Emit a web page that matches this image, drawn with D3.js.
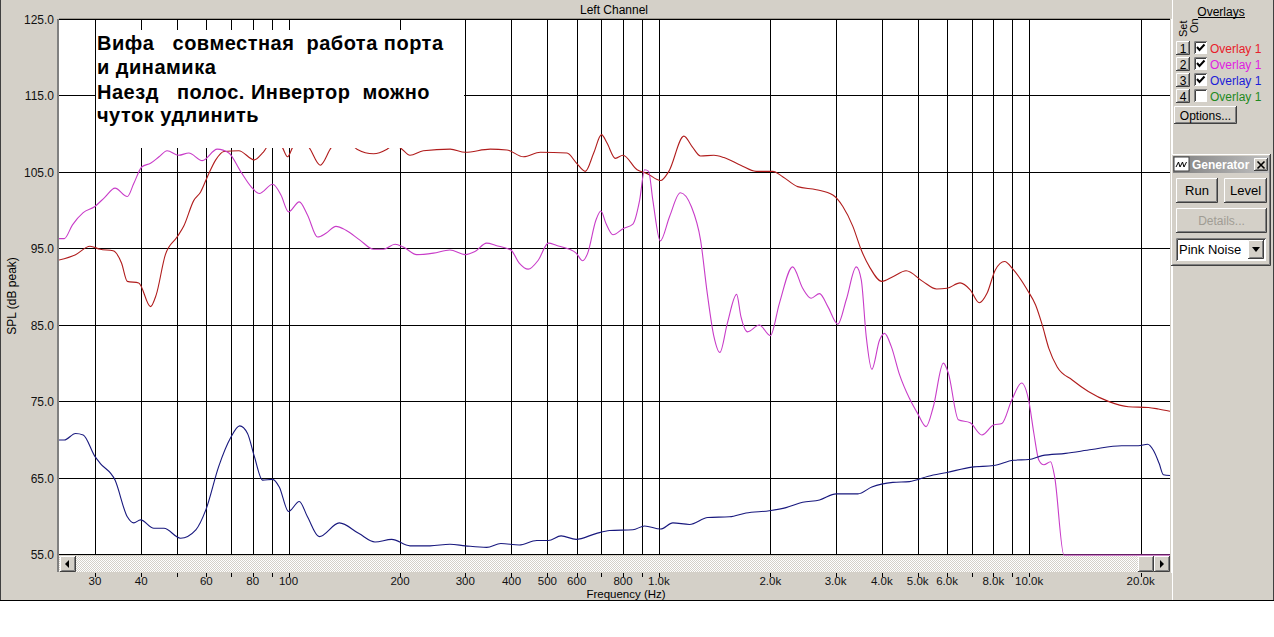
<!DOCTYPE html>
<html>
<head>
<meta charset="utf-8">
<script src="https://cdn.jsdelivr.net/npm/d3@7"></script>
<style>
  body { margin: 0; background: #fff; }
  svg { display: block; font-family: "Liberation Sans", Arial, sans-serif; }
</style>
</head>
<body>
<div id="chart"></div>
<script>
// ---- data ----
const gridFreqs = [30, 40, 50, 60, 70, 80, 90, 100, 200, 300, 400, 500, 600, 700, 800, 900,
                   1000, 2000, 3000, 4000, 5000, 6000, 7000, 8000, 9000, 10000, 20000];
const tickFreqs = [30, 40, 60, 80, 100, 200, 300, 400, 500, 600, 800,
                   1000, 2000, 3000, 4000, 5000, 6000, 8000, 10000, 20000];
const tickLabels = ["30", "40", "60", "80", "100", "200", "300", "400", "500", "600", "800",
                    "1.0k", "2.0k", "3.0k", "4.0k", "5.0k", "6.0k", "8.0k", "10.0k", "20.0k"];
const dbTicks = [125, 115, 105, 95, 85, 75, 65, 55];

// overlay 1 (red)
const redFreq = [24, 26.6, 29.1, 31.0, 33.6, 35.4, 36.7, 39.4, 42.4, 43.9, 46.5, 50, 52.1, 55.5, 57.9,
  60.4, 63.6, 66.9, 73.4, 80.8, 85.1, 91.5, 96.3, 99.4, 102.5, 107.5, 113.7, 121.8, 130.4, 140.5,
  153, 169.7, 184.5, 191.5, 200, 212.8, 231.2, 273.3, 300, 350.5, 388.7, 431, 478.7, 564.9, 600,
  633, 666.9, 700, 724.4, 763, 800, 873.5, 929.6, 1011, 1064, 1168, 1231, 1296, 1408, 1499, 1663,
  1830, 2029, 2159, 2370, 2662, 2950, 3139, 3341, 3520, 3705, 4000, 4283, 4652, 5158, 5624, 6000,
  6506, 6930, 7330, 7687, 8100, 8579, 9073, 9877, 10406, 10843, 11304, 11903, 13068, 14444, 16358,
  18527, 20982, 22328, 24000];
const redDb = [93.6, 94.3, 95.4, 95.0, 94.8, 93.2, 90.8, 90.6, 87.5, 89.0, 94.3, 96.6, 98.0, 101.4, 102.5,
  104.5, 106.7, 107.8, 107.9, 106.7, 107.6, 109.5, 108.3, 107.1, 108.3, 109.5, 108.3, 106.0, 108.3, 109.5,
  108.1, 107.5, 108.1, 108.6, 108.3, 107.3, 107.9, 108.1, 107.7, 108.1, 108.0, 107.1, 107.7, 107.6, 106.25,
  105.2, 107.6, 110.0, 108.9, 106.9, 107.3, 105.4, 104.9, 104.0, 105.2, 109.8, 108.4, 107.2, 107.3, 107.0, 106.0,
  105.2, 105.2, 104.5, 103.2, 102.8, 102.1, 100.6, 98.0, 94.9, 92.7, 90.8, 91.4, 92.2, 90.8, 89.8, 89.9,
  90.6, 89.7, 88.0, 89.2, 92.3, 93.4, 92.3, 89.7, 87.7, 85.1, 82.0, 79.6, 77.9, 76.4, 75.1,
  74.4, 74.3, 74.1, 73.8];

// overlay 2 (magenta)
const magFreq = [24, 24.8, 26.1, 27.9, 30, 31.9, 34.0, 36.7, 38.2, 40.2, 42.4, 44.7, 47.0, 50.5, 53.8,
  58.5, 64.2, 69.0, 74.2, 79.2, 83.4, 90.6, 95.4, 100, 106.9, 112.5, 119.8, 126.2, 134.3, 142.9,
  155.9, 169.7, 180.4, 193.9, 204.1, 221.9, 246.1, 272.8, 300, 318.7, 342.7, 363, 398.5, 419.7, 443.8,
  472.8, 503.1, 530.1, 573.4, 597.8, 622.8, 642.5, 676, 697.4, 719.4, 751.7, 800, 851, 887.2, 915.3,
  938.3, 963.4, 1008.8, 1069, 1142.5, 1223.5, 1296, 1351.5, 1408, 1461.7, 1530.5, 1621.7, 1665.7, 1735.6, 1867.5,
  2000, 2115, 2297.8, 2445.3, 2576.6, 2715.6, 2859.7, 3043, 3206.6, 3412, 3520, 3629.8, 3758.8, 3943, 4067.8,
  4241, 4465.6, 4748, 5000, 5268.5, 5509.9, 5863.5, 6048.8, 6437, 6930, 7452.4, 8015, 8436, 8977.5, 9538,
  9981, 10296, 10622, 10957, 11424, 11712, 12410, 24000];
const magDb = [96.4, 96.4, 98.2, 99.8, 100.6, 101.8, 103.0, 101.9, 103.6, 105.8, 106.25, 107.1, 107.9, 107.3, 107.6,
  106.6, 108.1, 107.6, 105.2, 103.2, 102.3, 103.5, 102.1, 99.9, 101.2, 99.5, 96.6, 97.1, 98.0, 97.5,
  96.2, 95.0, 95.0, 95.65, 95.3, 94.3, 94.5, 94.9, 94.3, 94.7, 95.8, 95.5, 94.9, 93.2, 92.4,
  93.6, 95.8, 95.5, 95.0, 94.5, 93.5, 94.5, 98.8, 100.0, 98.4, 96.9, 97.7, 98.3, 101.4, 105.4,
  105.2, 101.4, 96.1, 99.3, 102.4, 100.6, 96.2, 89.2, 83.6, 81.5, 85.3, 89.1, 86.2, 84.2, 85.1,
  83.7, 87.9, 92.7, 89.9, 88.6, 89.2, 87.5, 85.2, 88.4, 92.7, 91.0, 83.6, 79.3, 83.1, 84.0,
  82.3, 78.6, 75.5, 73.5, 71.8, 74.4, 80.1, 78.8, 72.7, 72.3, 70.7, 72.0, 72.2, 75.3, 77.5,
  75.1, 70.9, 67.4, 66.8, 67.2, 65.25, 55.0, 55.0];

// overlay 3 (blue)
const blueFreq = [24, 24.8, 26.6, 27.9, 30, 31.0, 34.0, 36.7, 38.2, 39.85, 43.3, 46.1, 51.1, 56.2, 59.8,
  64.8, 69.7, 73.8, 77.5, 80.85, 85.1, 90.6, 94.4, 100, 106.9, 112.5, 121.0, 137.1, 155, 171.2,
  189.9, 212.8, 241, 272.8, 300, 342.7, 374.5, 419.7, 468, 503.1, 544.5, 597.8, 676, 736.4, 851,
  915.3, 1010.6, 1091, 1209.7, 1355.7, 1551.6, 1719.3, 1987.6, 2205.3, 2445.3, 2715.6, 3013, 3446.7, 3758.8, 4283,
  4748, 5341, 6000, 7000, 8015, 9073, 9981, 10843, 12538, 14743, 17770, 19716, 20889, 21644, 22426,
  23036, 24000];
const blueDb = [70.05, 70.05, 70.9, 70.7, 67.9, 67.0, 64.8, 60.0, 59.2, 59.6, 58.5, 58.5, 57.2, 58.3, 60.9,
  66.6, 70.3, 71.9, 70.9, 67.9, 64.8, 64.9, 63.9, 60.7, 62.0, 60.0, 57.4, 59.2, 57.8, 56.7,
  57.05, 56.2, 56.2, 56.4, 56.2, 56.0, 56.5, 56.3, 56.9, 56.9, 57.5, 57.05, 57.8, 58.2, 58.3,
  58.8, 58.4, 59.2, 59.0, 59.9, 60.0, 60.5, 60.8, 61.2, 61.9, 62.2, 63.0, 63.0, 63.9, 64.5,
  64.6, 65.3, 65.8, 66.5, 66.7, 67.4, 67.5, 68.0, 68.3, 68.8, 69.3, 69.3, 69.5, 68.7, 67.0,
  65.5, 65.4];

const noteLines = ["Вифа   совместная  работа порта", "и динамика",
                   "Наезд   полос. Инвертор  можно", "чуток удлинить"];

const overlayNames = ["Overlay 1", "Overlay 1", "Overlay 1", "Overlay 1"];
const overlayColors = ["#e8202a", "#e020e0", "#1c1cd8", "#1f8a1f"];
const overlayOn = [true, true, true, false];

// ---- layout ----
const W = 1274, H = 637;
const pL = 59, pR = 1170, pT = 20, pB = 555;
const face = "#d4d0c8";

const svg = d3.select("#chart").append("svg").attr("width", W).attr("height", H);
const defs = svg.append("defs");

const x = d3.scaleLog().domain([24, 24000]).range([pL, pR]);
const y = d3.scaleLinear().domain([55, 125]).range([pB, pT]);
const px = v => Math.round(v) + 0.5;

// window background
svg.append("rect").attr("width", W).attr("height", 600).attr("fill", face);
svg.append("line").attr("x1", 0).attr("x2", W).attr("y1", 600.5).attr("y2", 600.5).attr("stroke", "#000");
svg.append("line").attr("x1", 0.5).attr("x2", 0.5).attr("y1", 0).attr("y2", 600).attr("stroke", "#404040");
svg.append("line").attr("x1", 1273.5).attr("x2", 1273.5).attr("y1", 0).attr("y2", 600).attr("stroke", "#404040");

// title strip
svg.append("line").attr("x1", pL).attr("x2", pR).attr("y1", 18.5).attr("y2", 18.5).attr("stroke", "#a09c94");
svg.append("text").attr("x", 614).attr("y", 13.5).attr("text-anchor", "middle")
  .attr("font-size", 12).text("Left Channel");

// plot area
svg.append("rect").attr("x", 57).attr("y", 19).attr("width", 2).attr("height", 553).attr("fill", "#808080");
svg.append("rect").attr("x", pL).attr("y", pT).attr("width", pR - pL).attr("height", pB - pT)
  .attr("fill", "#fff");
svg.append("line").attr("x1", pR + 1.5).attr("x2", pR + 1.5).attr("y1", 19).attr("y2", 573)
  .attr("stroke", "#fff");

const grid = svg.append("g").attr("stroke", "#000").attr("shape-rendering", "crispEdges");
grid.selectAll("line.v").data(gridFreqs).join("line").attr("class", "v")
  .attr("x1", d => px(x(d))).attr("x2", d => px(x(d)))
  .attr("y1", pT).attr("y2", pB);
grid.selectAll("line.h").data(dbTicks).join("line").attr("class", "h")
  .attr("x1", pL).attr("x2", pR)
  .attr("y1", d => px(y(d)) - 1).attr("y2", d => px(y(d)) - 1);

// curves
defs.append("clipPath").attr("id", "plotClip").append("rect")
  .attr("x", pL).attr("y", pT).attr("width", pR - pL).attr("height", pB - pT + 1);

const line = d3.line().x(d => x(d[0])).y(d => y(d[1])).curve(d3.curveMonotoneX);
const series = [
  { f: redFreq, v: redDb, color: "#b01c1c" },
  { f: magFreq, v: magDb, color: "#c83cc8" },
  { f: blueFreq, v: blueDb, color: "#18187e" }
];
const curves = svg.append("g").attr("clip-path", "url(#plotClip)");
series.forEach(s => {
  curves.append("path")
    .datum(s.f.map((f, i) => [f, s.v[i]]))
    .attr("d", line)
    .attr("fill", "none")
    .attr("stroke", s.color)
    .attr("stroke-width", 1.1);
});

// note pasted over the graph
svg.append("rect").attr("x", 96).attr("y", 30).attr("width", 368).attr("height", 118).attr("fill", "#fff");
svg.append("g").selectAll("text").data(noteLines).join("text")
  .attr("x", 97)
  .attr("y", (d, i) => [50, 74, 99, 122][i])
  .attr("xml:space", "preserve")
  .style("white-space", "pre")
  .attr("font-size", 20)
  .attr("letter-spacing", 0.5)
  .attr("font-weight", "bold")
  .text(d => d);

// y axis labels
svg.append("g").selectAll("text").data(dbTicks).join("text")
  .attr("x", 54).attr("y", d => y(d) + 4)
  .attr("text-anchor", "end").attr("font-size", 12).attr("fill", "#111")
  .text(d => d.toFixed(1));
svg.append("text").attr("transform", "translate(16,296) rotate(-90)")
  .attr("text-anchor", "middle").attr("font-size", 12).text("SPL (dB peak)");

// scrollbar
const pat = defs.append("pattern").attr("id", "dither").attr("width", 2).attr("height", 2)
  .attr("patternUnits", "userSpaceOnUse");
pat.append("rect").attr("width", 2).attr("height", 2).attr("fill", "#fff");
pat.append("rect").attr("width", 1).attr("height", 1).attr("fill", face);
pat.append("rect").attr("x", 1).attr("y", 1).attr("width", 1).attr("height", 1).attr("fill", face);
svg.append("rect").attr("x", pL).attr("y", 556).attr("width", pR - pL).attr("height", 16)
  .attr("fill", "url(#dither)");

function bevel(g, bx, by, w, h) {
  g.append("rect").attr("x", bx).attr("y", by).attr("width", w).attr("height", h).attr("fill", face);
  g.append("path").attr("d", `M${bx + 0.5},${by + h - 1}V${by + 0.5}H${bx + w - 1}`)
    .attr("stroke", "#fff").attr("fill", "none");
  g.append("path").attr("d", `M${bx + 1.5},${by + h - 1.5}H${bx + w - 1.5}V${by + 1}`)
    .attr("stroke", "#808080").attr("fill", "none");
  g.append("path").attr("d", `M${bx},${by + h - 0.5}H${bx + w - 0.5}V${by}`)
    .attr("stroke", "#404040").attr("fill", "none");
  return g;
}
function button(bx, by, w, h, label, size, color) {
  const g = bevel(svg.append("g"), bx, by, w, h);
  if (label) {
    g.append("text").attr("x", bx + w / 2).attr("y", by + h / 2 + 4.5)
      .attr("text-anchor", "middle").attr("font-size", size || 12).attr("fill", color || "#000")
      .text(label);
  }
  return g;
}

const lb = button(60, 556, 16, 16);
lb.append("path").attr("d", "M65,564L69,560V568Z").attr("fill", "#000");
button(1138, 556, 16, 16);
const rb = button(1154, 556, 16, 16);
rb.append("path").attr("d", "M1164,564L1160,560V568Z").attr("fill", "#000");

// x axis ticks and labels
svg.append("g").attr("stroke", "#000").attr("shape-rendering", "crispEdges")
  .selectAll("line").data(gridFreqs).join("line")
  .attr("x1", d => px(x(d))).attr("x2", d => px(x(d))).attr("y1", 573).attr("y2", 577);
svg.append("g").selectAll("text").data(tickFreqs).join("text")
  .attr("x", d => x(d)).attr("y", 584.5)
  .attr("text-anchor", "middle").attr("font-size", 11.5).attr("fill", "#111")
  .text((d, i) => tickLabels[i]);
svg.append("text").attr("x", 626).attr("y", 598).attr("text-anchor", "middle")
  .attr("font-size", 11.5).text("Frequency (Hz)");

// ---- overlays panel ----
svg.append("line").attr("x1", 1172.5).attr("x2", 1172.5).attr("y1", 0).attr("y2", 600).attr("stroke", "#fff");
svg.append("text").attr("x", 1221).attr("y", 16).attr("text-anchor", "middle")
  .attr("font-size", 12).text("Overlays");
svg.append("line").attr("x1", 1198).attr("x2", 1245).attr("y1", 17.5).attr("y2", 17.5).attr("stroke", "#000");
svg.append("text").attr("transform", "translate(1187,37) rotate(-90)").attr("font-size", 11).text("Set");
svg.append("text").attr("transform", "translate(1198,33) rotate(-90)").attr("font-size", 11).text("On");

overlayNames.forEach((name, i) => {
  const ry = 41 + i * 16;
  button(1176, ry, 14, 14, String(i + 1), 12);
  svg.append("rect").attr("x", 1194).attr("y", ry).attr("width", 13).attr("height", 13).attr("fill", "#fff");
  svg.append("path").attr("d", `M1194.5,${ry + 13}V${ry + 0.5}H1207`).attr("stroke", "#808080").attr("fill", "none");
  svg.append("path").attr("d", `M1195.5,${ry + 12}V${ry + 1.5}H1206`).attr("stroke", "#404040").attr("fill", "none");
  if (overlayOn[i]) {
    svg.append("path").attr("d", `M1197,${ry + 6}L1199.5,${ry + 9}L1204.5,${ry + 3.5}`)
      .attr("stroke", "#000").attr("stroke-width", 2).attr("fill", "none");
  }
  svg.append("text").attr("x", 1210).attr("y", ry + 11.5).attr("font-size", 12)
    .attr("fill", overlayColors[i]).text(name);
});
button(1174, 106, 63, 18, "Options...", 12);

// ---- generator panel ----
bevel(svg.append("g"), 1171, 154, 100, 112);
const tg = defs.append("linearGradient").attr("id", "titleGrad");
tg.append("stop").attr("offset", "0%").attr("stop-color", "#808080");
tg.append("stop").attr("offset", "100%").attr("stop-color", "#c0c0c0");
svg.append("rect").attr("x", 1173).attr("y", 156).attr("width", 96).attr("height", 17).attr("fill", "url(#titleGrad)");
svg.append("rect").attr("x", 1174).attr("y", 157).attr("width", 15).attr("height", 14)
  .attr("fill", "#fff").attr("stroke", "#404040");
svg.append("path").attr("d", "M1176,167L1178.5,162L1180,167L1182.5,162L1184,167L1186.5,162")
  .attr("stroke", "#000").attr("fill", "none");
svg.append("text").attr("x", 1192).attr("y", 169).attr("font-size", 12).attr("font-weight", "bold")
  .attr("fill", "#fff").text("Generator");
const xb = button(1254, 158, 14, 13);
xb.append("path").attr("d", "M1257.5,161.5L1264.5,168.5M1264.5,161.5L1257.5,168.5")
  .attr("stroke", "#000").attr("stroke-width", 1.6);

button(1176, 178, 42, 25, "Run", 13);
button(1224, 178, 43, 25, "Level", 13);
button(1176, 208, 91, 25, "Details...", 12, "#a09c94");

svg.append("rect").attr("x", 1176).attr("y", 238).attr("width", 90).attr("height", 23).attr("fill", "#fff");
svg.append("path").attr("d", "M1176.5,261V238.5H1266").attr("stroke", "#808080").attr("fill", "none");
svg.append("path").attr("d", "M1177.5,260V239.5H1265").attr("stroke", "#404040").attr("fill", "none");
svg.append("text").attr("x", 1179).attr("y", 254).attr("font-size", 13).text("Pink Noise");
const dd = button(1248, 240, 16, 19);
dd.append("path").attr("d", "M1252,247H1260L1256,252Z").attr("fill", "#000");
</script>
</body>
</html>
